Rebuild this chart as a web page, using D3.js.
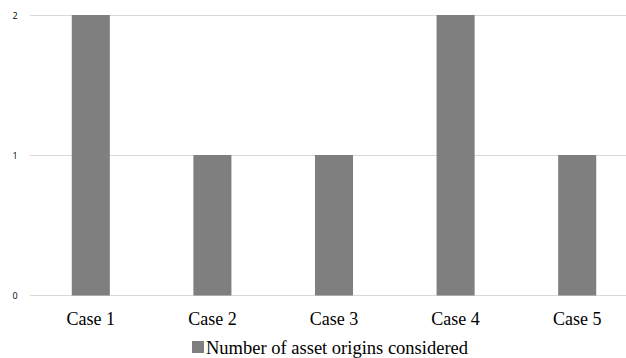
<!DOCTYPE html>
<html><head><meta charset="utf-8">
<script src="https://cdn.jsdelivr.net/npm/d3@7"></script>
<style>body{margin:0;background:#fff}
.serif{font-family:"Liberation Serif","Times New Roman","DejaVu Serif",serif}
</style>
</head><body>
<svg id="c" width="626" height="358"></svg>
<script>
const categories = ["Case 1","Case 2","Case 3","Case 4","Case 5"];
const values = [2,1,1,2,1];
const yTicks = [0,1,2];
const seriesName = "Number of asset origins considered";

const svg = d3.select("#c");
const x = d3.scaleBand().domain(categories).range([30,638]).paddingInner(0.687).paddingOuter(0.3435);
const y = d3.scaleLinear().domain([0,2]).range([295,15]);

svg.append("g").selectAll("line").data(yTicks).join("line")
  .attr("x1",30).attr("x2",626).attr("y1",d=>y(d)+0.5).attr("y2",d=>y(d)+0.5)
  .attr("stroke","#d9d9d9").attr("stroke-width",1);

svg.append("g").selectAll("text").data(yTicks).join("text")
  .attr("x",15).attr("y",d=>y(d)+3.5).attr("text-anchor","middle")
  .attr("font-family","'Open Sans', 'DejaVu Sans', sans-serif").attr("font-size",9).attr("fill","#000")
  .text(d=>d);

svg.append("g").selectAll("rect").data(values).join("rect")
  .attr("x",(d,i)=>x(categories[i])).attr("width",x.bandwidth())
  .attr("y",d=>y(d)).attr("height",d=>y(0)-y(d)+0.5)
  .attr("fill","#7f7f7f");

svg.append("g").selectAll("text").data(categories).join("text")
  .attr("class","serif")
  .attr("x",d=>x(d)+x.bandwidth()/2).attr("y",325).attr("text-anchor","middle")
  .attr("font-size",18).attr("fill","#000")
  .text(d=>d);

const lg = svg.append("g");
lg.append("rect").attr("x",192).attr("y",341).attr("width",12).attr("height",12).attr("fill","#7f7f7f");
lg.append("text").attr("class","serif").attr("x",206).attr("y",354)
  .attr("font-size",18.5).attr("fill","#000").text(seriesName);
</script>
</body></html>
